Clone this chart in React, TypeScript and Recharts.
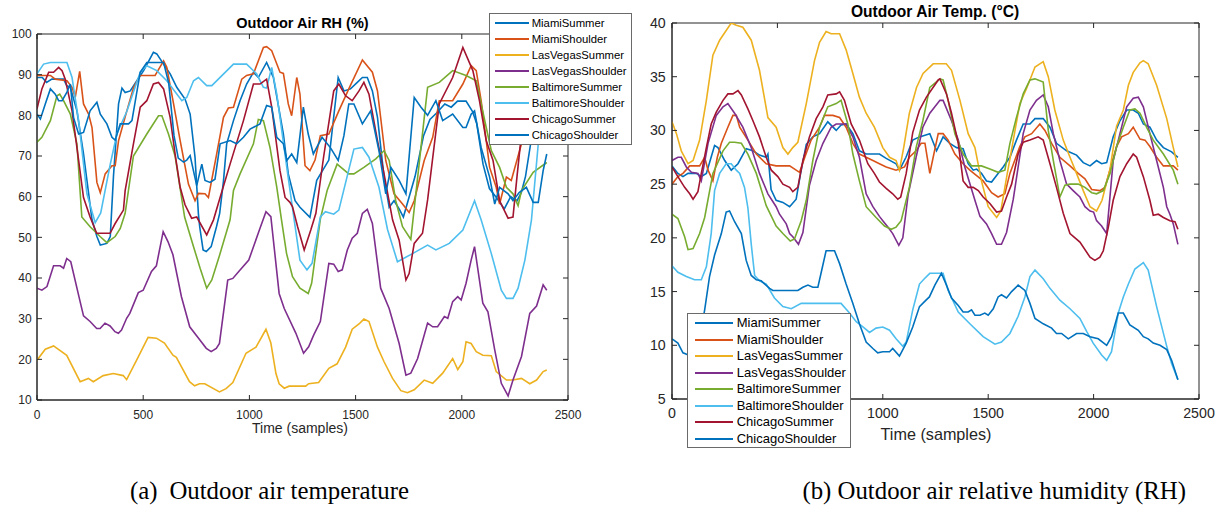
import { LineChart, Line, XAxis, YAxis, ReferenceArea, Legend } from "recharts";

// ---- data: [time sample, value] ----
const timeTicks = [0, 500, 1000, 1500, 2000, 2500];
const rhTicks = [10, 20, 30, 40, 50, 60, 70, 80, 90, 100];
const tempTicks = [5, 10, 15, 20, 25, 30, 35, 40];

const seriesNames = [
  "MiamiSummer", "MiamiShoulder", "LasVegasSummer", "LasVegasShoulder",
  "BaltimoreSummer", "BaltimoreShoulder", "ChicagoSummer", "ChicagoShoulder",
];

// left panel: outdoor air RH (%)
const rhMiamiSummer = [[0,89.3],[25,89.3],[45,88.1],[70,88.9],[125,88.9],[140,87.3],[157,86.9],[188,81.1],[219,70.5],[259,54.3],[282,50.2],[298,48.1],[329,48.5],[345,50.2],[360,65],[384,82.8],[400,86.7],[415,85.6],[439,86],[470,88.5],[502,91],[548,95.5],[564,95.1],[596,92.6],[627,90.2],[658,86.9],[697,84],[721,80.3],[744,69.7],[760,55.7],[766,52.6],[782,46.9],[797,46.5],[820,47.7],[845,52.6],[860,55.9],[878,63.9],[893,73],[925,78.7],[956,83.6],[987,87.7],[1019,90.6],[1042,89.3],[1081,93],[1113,89.3],[1160,75.4],[1183,65.6],[1215,59],[1238,57.4],[1285,54.9],[1317,64],[1374,69],[1418,89.3],[1445,86],[1476,86.5],[1508,88.1],[1532,89.3],[1555,89.3],[1579,86],[1603,79.5],[1634,64.8],[1658,57.4],[1681,59],[1705,57],[1725,55],[1780,65],[1820,75],[1850,79],[1880,80.5],[1920,82.8],[1950,82],[1980,83.5],[2020,83.5],[2050,81],[2070,78],[2100,68],[2130,62],[2160,60],[2200,57],[2230,60],[2260,59],[2280,61],[2300,65],[2330,75],[2400,85]];
const rhMiamiShoulder = [[0,89.8],[63,89.8],[86,88.9],[141,88.5],[165,86.9],[180,84.4],[201,90.8],[219,82.8],[243,80.3],[259,77],[282,63.5],[298,61],[321,65.6],[353,67.6],[368,67.6],[384,73.8],[423,81.1],[455,86.9],[486,89.8],[556,89.8],[596,93.4],[611,91.8],[643,82.8],[674,73.8],[713,63.1],[744,59],[760,60.8],[791,60.7],[807,59.8],[846,70.5],[878,79.5],[901,81.8],[925,82],[964,88.9],[987,89.8],[1019,90.2],[1066,96.7],[1081,96.9],[1105,95.9],[1144,90.6],[1160,90.3],[1183,82.8],[1199,79.9],[1223,89.3],[1238,85.2],[1262,67.6],[1285,66.4],[1309,69],[1334,75],[1374,75.4],[1421,81.1],[1468,86.5],[1532,93.6],[1579,90.6],[1603,86],[1642,68.9],[1681,60.7],[1721,58.2],[1752,56.1],[1776,59],[1823,68.9],[1863,74.6],[1894,83.6],[1957,83.6],[2005,87.7],[2044,92.2],[2068,91],[2091,83.6],[2131,67.2],[2162,62.3],[2178,58.2],[2210,64.8],[2233,64],[2281,73],[2330,80],[2400,86]];
const rhLasVegasSummer = [[0,19.8],[39,22.5],[78,23.3],[140,21],[203,14.5],[242,15.3],[265,14.5],[312,16],[359,16.5],[406,16],[422,15],[469,19.8],[523,25.4],[562,25.2],[600,24],[640,21],[656,20.5],[718,14.5],[742,13.5],[765,14],[790,14],[859,12],[890,12.8],[922,14.3],[984,21.5],[1031,23],[1078,27.4],[1101,24],[1125,16.5],[1140,14],[1164,12.9],[1187,13.4],[1265,13.4],[1279,14],[1326,14.3],[1374,17.8],[1413,18.9],[1453,23],[1484,27.4],[1516,28.7],[1539,29.9],[1563,29.3],[1603,23],[1634,19.4],[1674,15.3],[1713,12.3],[1744,11.8],[1776,12.5],[1823,14.9],[1863,14.1],[1910,16.6],[1957,20.2],[1981,17.5],[2005,19.4],[2020,24.3],[2044,23.9],[2068,21.9],[2099,21],[2139,20.9],[2162,17],[2210,14.9],[2241,14.9],[2281,15.3],[2320,14],[2352,14.9],[2383,17],[2400,17.4]];
const rhLasVegasShoulder = [[0,37.5],[23,37],[47,37.9],[78,43],[109,43],[125,42.4],[140,44.8],[159,44],[203,34.2],[219,30.7],[250,29.3],[281,27.6],[297,27.6],[320,28.9],[344,28.2],[367,26.8],[383,26.4],[398,27.2],[422,30.1],[437,31.3],[477,36.4],[500,37],[539,41.6],[562,43],[594,51.4],[617,48.9],[640,45.7],[680,35.4],[719,28],[766,24.8],[797,22.7],[820,21.9],[844,22.7],[859,23.9],[898,39.5],[922,39.9],[953,41.8],[997,44.4],[1047,51.8],[1078,56.3],[1101,55.1],[1140,36.2],[1164,32.5],[1219,26.4],[1255,21.5],[1279,23.1],[1303,26],[1334,29.3],[1374,43.6],[1397,43.4],[1418,41.6],[1437,42],[1461,46.9],[1484,49.8],[1508,51],[1532,55.9],[1555,56.9],[1579,53.4],[1618,37.5],[1658,32.5],[1705,23.9],[1737,16.1],[1760,16.6],[1792,20.2],[1839,28.9],[1863,28],[1886,28],[1918,30.5],[1934,30.1],[1957,34.2],[1981,35.4],[1997,34.6],[2020,38.7],[2044,44.4],[2060,47.7],[2099,33.8],[2123,31.7],[2155,22.3],[2186,14.1],[2218,11],[2241,14.9],[2281,20.7],[2320,31.3],[2352,33.1],[2383,38.3],[2400,37]];
const rhBaltimoreSummer = [[0,73.4],[23,74.6],[63,78.7],[94,84.8],[107,85.2],[125,83.6],[157,80.3],[188,73],[211,55],[250,52.6],[297,50.2],[329,48.7],[368,50.2],[392,52.2],[415,55.9],[454,70],[517,75.4],[572,79.9],[588,79.9],[619,75.4],[650,70],[695,55],[737,47.7],[768,42.4],[799,37.5],[823,39.5],[862,46],[909,54.3],[925,61.5],[956,65.6],[1019,73],[1042,79],[1066,78.7],[1097,72.1],[1129,62.3],[1152,54],[1175,46],[1203,40.3],[1238,37.5],[1277,36.2],[1293,38.7],[1334,54.5],[1366,61.5],[1413,68],[1468,65.6],[1492,65.6],[1539,67.2],[1595,69.3],[1634,71.3],[1658,68.9],[1689,59],[1721,52.6],[1760,49.5],[1839,86.9],[1894,88.1],[1957,91],[2020,89.8],[2068,88.5],[2115,77],[2139,71.3],[2178,67.2],[2210,62.3],[2241,60.7],[2265,57.8],[2281,61.5],[2336,66],[2400,68.4]];
const rhBaltimoreShoulder = [[0,90.2],[31,92.6],[63,93],[141,93],[165,89.3],[196,78.7],[235,60.7],[274,53.6],[300,56],[345,68],[376,75.4],[423,81],[486,90.6],[517,92.2],[564,91],[611,88.5],[682,83.6],[705,84.4],[737,88.5],[760,89.3],[799,87.3],[823,87.3],[925,92.6],[987,92.6],[1034,90.2],[1066,86.9],[1081,86.7],[1105,91.8],[1129,85.2],[1176,67.2],[1207,55.7],[1238,44.4],[1271,42],[1295,43.6],[1334,55],[1358,56.3],[1397,55.7],[1421,56.7],[1492,71.7],[1532,72.1],[1563,69.7],[1610,62.3],[1650,52],[1697,44],[1768,46],[1839,48.1],[1878,46.9],[1941,48.5],[2005,51.8],[2060,59],[2091,54.3],[2139,46],[2186,37],[2210,35],[2241,35],[2265,37.5],[2297,44.4],[2328,54.3],[2360,73],[2400,80]];
const rhChicagoSummer = [[0,81.6],[23,86.5],[55,90.6],[78,90.6],[102,91.8],[118,91],[133,88.9],[165,81.1],[196,68.9],[219,59.8],[250,55],[281,51],[344,51],[368,53.4],[407,56.7],[415,61.5],[454,73],[486,82],[517,83.6],[548,87.7],[572,88.1],[596,86.5],[627,79.5],[650,70.5],[674,62.3],[697,58],[728,54.7],[752,55],[799,50.6],[831,54.3],[862,59.8],[909,68],[972,78.7],[1019,87.7],[1050,87.7],[1081,88.9],[1105,82],[1144,66.4],[1168,59.8],[1191,58.6],[1203,57.5],[1227,52.6],[1258,46.9],[1289,51.8],[1313,55.9],[1350,70],[1397,86],[1421,87.7],[1453,84.8],[1484,83.6],[1516,86],[1539,88.1],[1563,85.2],[1603,73.8],[1634,65.6],[1674,54.3],[1705,49.3],[1737,39.5],[1752,41.1],[1776,48.5],[1815,51],[1839,59.2],[1894,82.8],[1957,89.3],[2005,96.7],[2052,91],[2083,83.6],[2115,73.8],[2147,68.9],[2178,59],[2218,54.7],[2241,55],[2260,65],[2290,80],[2400,88]];
const rhChicagoShoulder = [[0,80.3],[16,79.1],[39,82.8],[63,86.5],[86,85.2],[102,83.6],[118,83.6],[141,85.7],[157,87.7],[172,79.5],[196,75.4],[219,75.8],[250,81.1],[282,83.2],[298,80.3],[329,77.9],[353,74.6],[368,73.9],[392,77.9],[431,77.9],[447,78.7],[486,90.6],[517,93],[596,93],[620,88],[645,75],[665,69.5],[690,68.5],[705,69],[721,70.1],[752,62.7],[776,68],[791,64],[815,63.5],[838,64.3],[862,73],[909,73.8],[940,73],[972,74.6],[1003,76.6],[1050,77.9],[1081,82.4],[1105,82],[1129,74.6],[1160,73],[1176,68.9],[1199,70.5],[1223,68.4],[1254,82],[1277,75.4],[1301,70.5],[1342,74.6],[1382,72],[1418,68.9],[1445,75],[1468,82.8],[1492,82.8],[1532,77.9],[1571,81.1],[1610,71.3],[1642,60.7],[1666,67.2],[1705,64],[1737,60.7],[1776,84.4],[1808,82],[1839,80],[1878,83.6],[1910,78.7],[1957,80.3],[2005,77],[2020,77],[2044,80.3],[2060,81.1],[2091,72.1],[2131,64.8],[2155,58.2],[2178,62.3],[2218,60.7],[2241,59],[2270,61],[2304,62.3],[2336,58.6],[2360,58.6],[2383,66.4],[2400,70.5]];

// right panel: outdoor air temperature (°C)
const tMiamiSummer = [[0,26.7],[28,26],[52,25.7],[76,26],[115,26],[139,25.7],[163,26],[202,28.6],[218,28.4],[250,27.2],[281,26.3],[313,26.9],[352,28.3],[384,28.1],[415,27.7],[447,27.5],[455,27.8],[470,24.5],[494,23.5],[526,23.3],[558,22.9],[589,23.6],[610,26],[637,28.7],[668,29.4],[700,29.7],[739,30.8],[779,30],[802,30.5],[826,30.6],[858,29.7],[889,28.1],[921,27.8],[984,27.8],[1016,27.4],[1063,26.9],[1079,26.3],[1110,27.5],[1142,29.1],[1174,29.4],[1223,29.7],[1255,28.1],[1286,29.4],[1318,28.8],[1350,28.4],[1381,28.3],[1405,26.9],[1429,26.3],[1445,26.4],[1468,26],[1492,25.3],[1516,25.2],[1547,26],[1571,26.6],[1603,27.5],[1634,29.1],[1666,30.6],[1698,30.6],[1722,31.1],[1761,31.1],[1793,30.3],[1824,28.8],[1872,28.1],[1919,27.7],[1951,27],[1983,26.7],[2014,27.2],[2038,26.9],[2062,27],[2093,29.4],[2125,30.9],[2157,31.9],[2188,31.9],[2212,31.6],[2236,30.6],[2267,30.3],[2299,29.1],[2331,28.4],[2370,28],[2400,27.5]];
const tMiamiShoulder = [[0,25],[28,25.7],[52,26],[84,26.7],[131,26.7],[155,27.5],[171,26.3],[194,25.3],[215,27.5],[234,28.8],[265,30.3],[289,31.4],[305,31.4],[321,30.3],[360,29.1],[400,27.8],[447,26.9],[494,26.7],[558,26.7],[605,26.1],[630,27.5],[660,29.1],[700,30.3],[723,31.4],[763,31.4],[795,31.2],[826,30.3],[858,28.8],[889,27.8],[921,27.5],[953,27.2],[984,26.9],[1016,26.6],[1063,26.3],[1103,26.6],[1126,27.5],[1158,28.1],[1182,28.8],[1200,28.8],[1223,26],[1239,27.5],[1263,29.7],[1286,29.7],[1310,29.1],[1342,27.8],[1381,26.9],[1413,26.3],[1445,25.8],[1476,25.3],[1516,24.2],[1547,23.8],[1579,24.1],[1603,26],[1650,28.5],[1674,29.4],[1706,29.7],[1745,30.6],[1769,30],[1801,28.8],[1840,27.5],[1888,26.7],[1927,26],[1959,25.5],[1991,24.5],[2030,24.4],[2054,24.7],[2080,26.5],[2109,28.5],[2133,29.4],[2165,29.7],[2188,30.3],[2220,29.2],[2244,29.1],[2267,28.5],[2299,27.5],[2331,26.7],[2378,26.7],[2400,26.3]];
const tLasVegasSummer = [[0,30.8],[21,29.7],[44,28.1],[76,26.9],[100,27.2],[131,29.1],[163,32.8],[194,37],[226,38.4],[257,39.3],[281,40],[305,39.8],[336,39.6],[376,38.4],[415,35.6],[455,31.2],[494,30.3],[526,28.4],[550,27.8],[573,28.4],[597,28.9],[637,32.5],[676,36.5],[700,38.2],[731,39.2],[755,39],[795,39],[826,37.5],[858,35.3],[889,33.1],[921,31.6],[960,30.3],[1000,28.4],[1032,27.5],[1063,27.2],[1079,26.3],[1100,28.5],[1126,31.6],[1160,34],[1191,35.3],[1239,36.2],[1301,36.2],[1326,35.6],[1366,32.8],[1405,29.7],[1437,28.4],[1468,25.3],[1500,22.9],[1540,21.9],[1560,22.5],[1587,25.6],[1619,29.1],[1650,32.5],[1682,33.9],[1722,35.9],[1761,36.4],[1785,35],[1816,31.9],[1856,29.1],[1888,27.5],[1919,26],[1951,24.4],[1983,22.9],[2014,22.5],[2040,23.5],[2078,26.4],[2109,30.4],[2141,31.9],[2165,34.2],[2188,35.4],[2220,36.3],[2236,36.5],[2259,36.2],[2299,34.2],[2347,31.1],[2378,28.4],[2400,26.6]];
const tLasVegasShoulder = [[0,27.2],[28,27.5],[44,27.5],[68,26.6],[92,26.1],[123,26],[139,25.3],[171,28.8],[210,31.4],[242,32.2],[265,32.5],[297,31.6],[336,30.3],[376,28.4],[415,26],[455,24.1],[494,22.9],[510,22.2],[542,21.3],[558,20.4],[573,20.1],[600,19.4],[621,20.5],[652,24.9],[684,27.2],[716,28.8],[755,30.3],[779,30.6],[826,30.6],[858,29.4],[889,27.5],[921,24.1],[953,22.9],[984,22],[1000,21.6],[1024,21],[1047,20.4],[1076,19.3],[1095,20],[1120,24],[1158,27.5],[1190,30.3],[1223,31.6],[1271,32.8],[1286,32.8],[1326,30.9],[1358,29.1],[1389,26.6],[1437,23.5],[1461,22],[1492,21.3],[1516,20.4],[1540,19.4],[1563,19.4],[1587,20.5],[1619,23.6],[1666,29.7],[1698,31.9],[1729,32.8],[1761,33.3],[1785,32.2],[1809,29.7],[1840,27.2],[1872,25],[1903,24.4],[1935,23.8],[1959,22.9],[1983,22.5],[2000,22.4],[2014,21.6],[2038,21.1],[2062,20.4],[2093,27.2],[2125,29.7],[2157,32.2],[2188,33],[2212,33.1],[2236,32.2],[2267,29.7],[2299,27.2],[2331,24.7],[2347,22.9],[2362,22.2],[2378,21.3],[2400,19.4]];
const tBaltimoreSummer = [[0,22.2],[28,21.8],[60,20.1],[76,18.9],[100,19],[131,20.4],[155,21.9],[194,26],[242,28.1],[273,28.9],[297,28.9],[329,28.8],[360,27.8],[400,26],[447,23],[494,21.1],[526,20.4],[561,19.7],[581,19.9],[613,21.6],[637,23.5],[668,27.2],[700,30.3],[739,32.2],[779,32.5],[802,32.8],[834,30.6],[858,27.8],[889,25.3],[921,22.9],[968,21.9],[1008,21.1],[1040,20.8],[1063,21],[1087,21.6],[1126,24.7],[1158,28.4],[1190,30.9],[1223,34],[1271,34.8],[1286,34.7],[1310,32.8],[1342,29.7],[1381,27.8],[1421,26.7],[1468,26.7],[1508,26.4],[1547,26.1],[1579,26.3],[1603,28.8],[1634,31.2],[1666,33.4],[1698,34.7],[1722,34.8],[1761,34.5],[1785,30],[1809,27.2],[1840,23.8],[1864,24.9],[1888,25],[1927,25],[1959,24.7],[1991,24.2],[2014,24.1],[2046,24.4],[2078,26],[2109,28.5],[2141,30.3],[2172,31.9],[2196,32],[2220,31.6],[2251,30.3],[2283,29.1],[2331,27.8],[2378,26.3],[2400,25]];
const tBaltimoreShoulder = [[0,17.4],[28,16.8],[68,16.4],[107,16.1],[139,16.1],[163,17.3],[186,20.4],[202,24.4],[226,26],[257,26.9],[281,26.9],[305,26.3],[321,26],[344,24.7],[360,22.8],[376,19.4],[392,16.5],[415,16],[447,15.7],[486,14.4],[526,13.6],[566,13.4],[613,13.9],[731,13.9],[802,13.9],[842,13],[874,12.2],[913,11.6],[937,11.2],[968,11.6],[1000,11.7],[1032,11.4],[1063,10.6],[1095,9.9],[1111,10.3],[1142,13.3],[1174,15.7],[1197,16.2],[1223,16.7],[1286,16.7],[1310,15.1],[1358,13.1],[1413,12],[1476,10.8],[1532,10.1],[1563,10.3],[1603,11.1],[1642,12.7],[1674,14.5],[1698,16.4],[1722,17],[1761,16.2],[1793,15.3],[1840,14.2],[1888,13.4],[1935,12.5],[1967,11.3],[1998,10.2],[2038,9.1],[2062,8.6],[2085,9.4],[2117,13],[2141,14.5],[2165,15.7],[2196,17.1],[2236,17.7],[2259,17],[2299,13.6],[2347,9.9],[2370,8.3],[2400,6.8]];
const tChicagoSummer = [[0,26.6],[28,25.7],[60,24.7],[84,24.1],[100,23.6],[123,24.3],[139,26],[163,28.4],[186,30.6],[210,31.7],[242,32.8],[265,33.4],[289,33.4],[313,33.7],[329,33.3],[360,32],[384,30.9],[415,29.4],[447,27.5],[471,26.3],[502,25.7],[526,25],[558,24.7],[573,24.3],[597,24.7],[621,27.2],[652,29.4],[684,31.1],[716,32.2],[739,33.3],[779,33.4],[795,33.6],[818,32.8],[850,30.6],[889,29.1],[929,26.9],[960,26],[984,25.2],[1016,24.6],[1047,24.1],[1071,23.6],[1085,23.8],[1111,26],[1142,29.8],[1174,31.9],[1207,33.1],[1263,34.7],[1271,34.8],[1302,33.4],[1326,31.6],[1358,28.8],[1381,25.3],[1405,24.7],[1429,24.7],[1453,24.4],[1476,23.8],[1508,23.2],[1540,22.4],[1563,22.5],[1587,23.8],[1611,25],[1642,27.8],[1666,28.9],[1698,29.1],[1737,29.4],[1761,29.1],[1793,26.9],[1824,24.7],[1856,22.3],[1888,20.4],[1935,19.6],[1983,18.2],[2006,17.9],[2030,18.2],[2046,18.8],[2070,21],[2093,23.5],[2125,25.7],[2157,26.9],[2188,27.8],[2204,27.5],[2236,25.7],[2267,23.5],[2283,22.1],[2307,22.2],[2331,21.9],[2362,21.6],[2386,21.5],[2400,20.8]];
const tChicagoShoulder = [[0,10.6],[28,10.2],[52,9.3],[90,9],[130,10.5],[155,13.3],[178,16.4],[202,18.4],[234,20.4],[257,22.4],[273,22.5],[297,21.5],[329,20.4],[352,17.9],[376,16.5],[400,16.1],[423,16],[463,15.3],[478,15.1],[597,15.1],[621,15.4],[645,15.6],[668,15.4],[692,15.4],[708,16.8],[731,18.8],[771,18.8],[795,17.6],[826,15.7],[858,13.9],[889,12],[921,10.3],[953,9.7],[976,9.3],[1000,9.4],[1032,9.4],[1047,9.7],[1079,9],[1111,10.2],[1142,11.7],[1174,13.6],[1205,14.2],[1221,14.5],[1247,15.6],[1278,16.7],[1302,15.6],[1326,14.4],[1358,13.7],[1381,13.1],[1405,13.1],[1421,13.3],[1437,12.8],[1461,12.8],[1484,13],[1500,12.8],[1524,13.4],[1547,14.5],[1563,14.7],[1587,14.4],[1611,15],[1642,15.6],[1674,15.1],[1698,13.9],[1722,12.5],[1761,12],[1801,11.6],[1824,11.1],[1848,11.1],[1880,10.6],[1919,11.1],[1951,11.1],[1983,10.8],[2022,10.6],[2062,10],[2085,10.8],[2117,13],[2141,13],[2172,11.9],[2212,11.4],[2236,10.8],[2259,10.6],[2283,10.2],[2315,10],[2347,9.6],[2370,8.6],[2400,6.8]];

const rhSeries = [rhMiamiSummer, rhMiamiShoulder, rhLasVegasSummer, rhLasVegasShoulder, rhBaltimoreSummer, rhBaltimoreShoulder, rhChicagoSummer, rhChicagoShoulder];
const tempSeries = [tMiamiSummer, tMiamiShoulder, tLasVegasSummer, tLasVegasShoulder, tBaltimoreSummer, tBaltimoreShoulder, tChicagoSummer, tChicagoShoulder];

// ---- styling ----
const colors = ["#0072BD", "#D95319", "#EDB120", "#7E2F8E", "#77AC30", "#4DBEEE", "#A2142F", "#0072BD"];
const AX = "#262626";
const FONT = "'Liberation Sans', Arial, Helvetica, sans-serif";

const toPts = (arr: number[][]) => arr.map(([t, v]) => ({ t, v }));

// MATLAB-style ticks: pointing inward, mirrored on the opposite side of the box.
// `hidden` lists tick labels that sit under the legend box in the original.
const xTick = (plotH: number, fs: number, dy: number, hidden: number[]) => (p: any) => (
  <g>
    <line x1={p.x} y1={p.y} x2={p.x} y2={p.y - 5} stroke={AX} />
    <line x1={p.x} y1={p.y - plotH} x2={p.x} y2={p.y - plotH + 5} stroke={AX} />
    {!hidden.includes(p.payload.value) && (
      <text x={p.x} y={p.y + dy} textAnchor="middle" fontSize={fs} fontFamily={FONT} fill={AX}>{p.payload.value}</text>
    )}
  </g>
);

const yTick = (plotW: number, fs: number, gap: number) => (p: any) => (
  <g>
    <line x1={p.x} y1={p.y} x2={p.x + 5} y2={p.y} stroke={AX} />
    <line x1={p.x + plotW} y1={p.y} x2={p.x + plotW - 5} y2={p.y} stroke={AX} />
    <text x={p.x - gap} y={p.y} dy="0.35em" textAnchor="end" fontSize={fs} fontFamily={FONT} fill={AX}>{p.payload.value}</text>
  </g>
);

function LegendBox({ fs, rowH, first, lineX, lineW, textX }: any) {
  return (
    <div style={{ position: "relative", width: "100%", height: "100%", boxSizing: "border-box", background: "#fff", border: "1px solid #6a6a6a", fontFamily: FONT, fontSize: fs, color: "#000" }}>
      {seriesNames.map((n, i) => (
        <div key={n} style={{ position: "absolute", left: 0, top: first + i * rowH - rowH / 2, height: rowH, width: "100%" }}>
          <div style={{ position: "absolute", left: lineX, top: rowH / 2 - 1, width: lineW, height: 2, background: colors[i] }} />
          <div style={{ position: "absolute", left: textX, top: 0, lineHeight: `${rowH}px`, whiteSpace: "nowrap" }}>{n}</div>
        </div>
      ))}
    </div>
  );
}

function Panel({ series, yTicks, yDomain, width, height, margin, yW, xH, plotW, plotH, tickFs, xDy, yGap, hiddenX, legend }: any) {
  return (
    <LineChart width={width} height={height} margin={margin}>
      <XAxis type="number" dataKey="t" domain={[0, 2500]} ticks={timeTicks} interval={0} allowDataOverflow
        height={xH} tickSize={0} tickMargin={0} tickLine={false} stroke={AX} tick={xTick(plotH, tickFs, xDy, hiddenX)} />
      <YAxis type="number" dataKey="v" domain={yDomain} ticks={yTicks} interval={0} allowDataOverflow
        width={yW} tickSize={0} tickMargin={0} tickLine={false} stroke={AX} tick={yTick(plotW, tickFs, yGap)} />
      <ReferenceArea x1={0} x2={2500} y1={yDomain[0]} y2={yDomain[1]} fill="none" fillOpacity={0} stroke={AX} strokeWidth={1} ifOverflow="visible" />
      {series.map((s: number[][], i: number) => (
        <Line key={seriesNames[i]} name={seriesNames[i]} data={toPts(s)} dataKey="v" type="linear"
          stroke={colors[i]} strokeWidth={1.6} dot={false} activeDot={false} isAnimationActive={false} />
      ))}
      <Legend layout="horizontal" verticalAlign="middle" align="center"
        wrapperStyle={{ position: "absolute", left: legend.left, top: legend.top, width: legend.w, height: legend.h }}
        content={() => <LegendBox {...legend} />} />
    </LineChart>
  );
}

export default function App() {
  return (
    <div style={{ position: "absolute", left: 0, top: 0, width: 1217, height: 510, background: "#fff", overflow: "hidden" }}>
      <svg width={1217} height={510} style={{ position: "absolute", left: 0, top: 0 }}>
        <g fontFamily={FONT} fill="#000">
          <text x={302.5} y={27.8} textAnchor="middle" fontSize={14.5} fontWeight="bold">Outdoor Air RH (%)</text>
          <text x={300} y={433} textAnchor="middle" fontSize={14} fill={AX}>Time (samples)</text>
          <text x={935} y={17.2} textAnchor="middle" fontSize={15.6} fontWeight="bold">Outdoor Air Temp. (°C)</text>
          <text x={936} y={439.7} textAnchor="middle" fontSize={16.2} fill={AX}>Time (samples)</text>
        </g>
        <g fontFamily="'Liberation Serif', 'Times New Roman', serif" fontSize={24.8} fill="#000">
          <text x={130} y={499}>(a)</text>
          <text x={409} y={499} textAnchor="end">Outdoor air temperature</text>
          <text x={1186} y={499} textAnchor="end">(b) Outdoor air relative humidity (RH)</text>
        </g>
      </svg>
      <div style={{ position: "absolute", left: 0, top: 0 }}>
        <Panel series={rhSeries} yTicks={rhTicks} yDomain={[10, 100]} width={600} height={440}
          margin={{ top: 34, right: 32, bottom: 0, left: 0 }} yW={37} xH={40} plotW={531} plotH={366}
          tickFs={12} xDy={19.2} yGap={5.3} hiddenX={[]}
          legend={{ left: 489, top: 12.7, w: 143, h: 132, fs: 11.3, rowH: 16, first: 9.6, lineX: 5, lineW: 34, textX: 41.7 }} />
      </div>
      <div style={{ position: "absolute", left: 620, top: 0 }}>
        <Panel series={tempSeries} yTicks={tempTicks} yDomain={[5, 40]} width={597} height={450}
          margin={{ top: 23, right: 18, bottom: 0, left: 0 }} yW={52} xH={51} plotW={527} plotH={376}
          tickFs={14.2} xDy={19} yGap={6.3} hiddenX={[500]}
          legend={{ left: 67.3, top: 312.7, w: 163.4, h: 135.6, fs: 13, rowH: 16.5, first: 9.6, lineX: 6.7, lineW: 38, textX: 48.4 }} />
      </div>
    </div>
  );
}
